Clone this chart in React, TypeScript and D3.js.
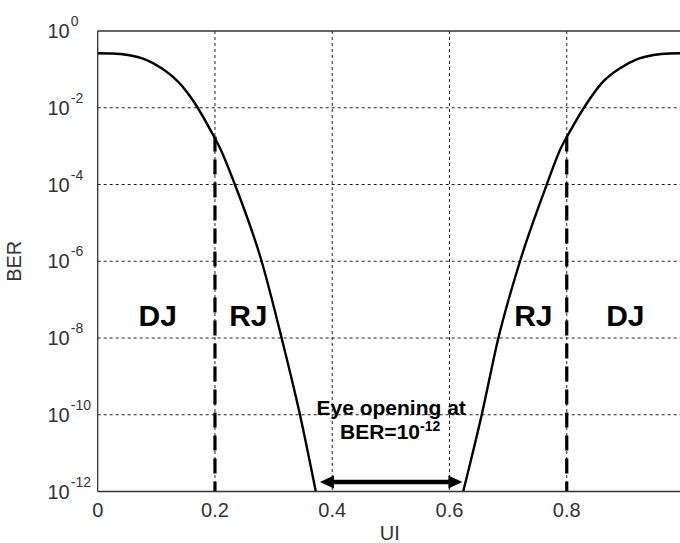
import React from "react";
import * as d3 from "d3";

// ---- data ----
const X_TICKS = [0, 0.2, 0.4, 0.6, 0.8];
const X_GRID = [0.2, 0.4, 0.6, 0.8];
const Y_TICK_EXPS = [0, -2, -4, -6, -8, -10, -12];
const Y_GRID_EXPS = [-2, -4, -6, -8, -10];

// [UI, log10(BER)]
const LEFT_CURVE: [number, number][] = [
  [0, -0.58], [0.025, -0.585], [0.052, -0.626], [0.0806, -0.74], [0.109, -0.97],
  [0.137, -1.32], [0.166, -1.89], [0.194, -2.63], [0.2085, -3.05], [0.234, -4],
  [0.2796, -6], [0.3137, -8], [0.345, -10], [0.372, -12],
];
const RIGHT_CURVE: [number, number][] = [
  [0.6234, -12], [0.655, -10], [0.6834, -8], [0.7203, -6], [0.766, -4],
  [0.7885, -3.1], [0.805, -2.63], [0.834, -1.89], [0.862, -1.32], [0.891, -0.97],
  [0.9195, -0.74], [0.948, -0.626], [0.975, -0.585], [1, -0.58],
];
const DJ_BOUNDS = [0.2, 0.8];
const DJ_BOUND_TOP = -2.75;
const REGION_LABELS = ["DJ", "RJ", "RJ", "DJ"];
const REGION_UI = [0.1025, 0.257, 0.743, 0.9];
const REGION_EXP = -7.69;
const EYE_SPAN = [0.379, 0.622];
const EYE_EXP = -11.75;

const W = 680;
const H = 543;
const FONT = "'Liberation Sans', Arial, Helvetica, sans-serif";

export default function App() {
  const x = d3.scaleLinear().domain([0, 1]).range([97.7, 684]);
  const y = d3.scaleLog().domain([1e-12, 1]).range([491.5, 31]);
  const yE = (e: number) => y(Math.pow(10, e));

  const line = d3
    .line<[number, number]>()
    .x((d) => x(d[0]))
    .y((d) => yE(d[1]))
    .curve(d3.curveMonotoneX);

  const [x0, x1] = x.range();
  const yTop = y.range()[1];
  const yBot = y.range()[0];
  const ay = yE(EYE_EXP);
  const ax0 = x(EYE_SPAN[0]);
  const ax1 = x(EYE_SPAN[1]);
  const hl = 14;
  const hh = 6.5;
  const cx = (ax0 + ax1) / 2;

  return (
    <svg
      width={W}
      height={H}
      style={{ position: "absolute", left: 0, top: 0, background: "#fff" }}
      fontFamily={FONT}
    >
      <defs>
        <clipPath id="plot">
          <rect x={x0} y={yTop - 2} width={x1 - x0} height={yBot - yTop + 2} />
        </clipPath>
      </defs>
      <rect width={W} height={H} fill="#fff" />

      {/* grid */}
      {X_GRID.map((t) => (
        <line key={"gx" + t} x1={x(t)} x2={x(t)} y1={yTop} y2={yBot}
          stroke="#222" strokeWidth={1} strokeDasharray="3,3" />
      ))}
      {Y_GRID_EXPS.map((e) => (
        <line key={"gy" + e} x1={x0} x2={x1} y1={yE(e)} y2={yE(e)}
          stroke="#222" strokeWidth={1} strokeDasharray="3,3" />
      ))}

      {/* DJ boundary dashed lines */}
      {DJ_BOUNDS.map((t) => (
        <line key={"dj" + t} x1={x(t)} x2={x(t)} y1={yE(DJ_BOUND_TOP)} y2={yBot}
          stroke="#000" strokeWidth={3.2} strokeDasharray="15,8" />
      ))}

      {/* curves */}
      <g clipPath="url(#plot)">
        <path d={line(LEFT_CURVE) || ""} fill="none" stroke="#000" strokeWidth={2.4} />
        <path d={line(RIGHT_CURVE) || ""} fill="none" stroke="#000" strokeWidth={2.4} />
      </g>

      {/* axes box */}
      <line x1={x0} x2={x1} y1={yTop} y2={yTop} stroke="#333" strokeWidth={1.3} />
      <line x1={x0} x2={x1} y1={yBot} y2={yBot} stroke="#333" strokeWidth={1.3} />
      <line x1={x0} x2={x0} y1={yTop} y2={yBot} stroke="#333" strokeWidth={1.3} />
      <line x1={x1} x2={x1} y1={yTop} y2={yBot} stroke="#333" strokeWidth={1.3} />

      {/* x tick labels */}
      {X_TICKS.map((t) => (
        <text key={"xt" + t} x={x(t)} y={516.5} textAnchor="middle" fontSize={20} fill="#333">
          {String(t)}
        </text>
      ))}
      <text x={x(0.5) - 1} y={540} textAnchor="middle" fontSize={20} fill="#333">UI</text>

      {/* y tick labels */}
      {Y_TICK_EXPS.map((e) => (
        <text key={"yt" + e} x={47.5} y={yE(e) + 7} fontSize={20} fill="#333">
          10
          <tspan dx={1} dy={-12} fontSize={14}>{String(e)}</tspan>
        </text>
      ))}
      <text
        transform={`translate(21,${(yTop + yBot) / 2}) rotate(-90)`}
        textAnchor="middle"
        fontSize={20}
        fill="#333"
      >
        BER
      </text>

      {/* region labels */}
      {REGION_LABELS.map((s, i) => (
        <text key={"rl" + i} x={x(REGION_UI[i])} y={yE(REGION_EXP)} textAnchor="middle"
          fontSize={30} fontWeight="bold" fill="#000">
          {s}
        </text>
      ))}

      {/* eye opening annotation */}
      <text x={cx} y={yE(-10)} textAnchor="middle" fontSize={21} fontWeight="bold" fill="#000">
        Eye opening at
      </text>
      <text x={cx - 1} y={439} textAnchor="middle" fontSize={21} fontWeight="bold" fill="#000">
        BER=10
        <tspan dy={-8} fontSize={14}>-12</tspan>
      </text>
      <line x1={ax0 + hl - 1} x2={ax1 - hl + 1} y1={ay} y2={ay} stroke="#000" strokeWidth={4.5} />
      <path d={`M${ax0},${ay} L${ax0 + hl},${ay - hh} L${ax0 + hl},${ay + hh} Z`} fill="#000" />
      <path d={`M${ax1},${ay} L${ax1 - hl},${ay - hh} L${ax1 - hl},${ay + hh} Z`} fill="#000" />
    </svg>
  );
}
